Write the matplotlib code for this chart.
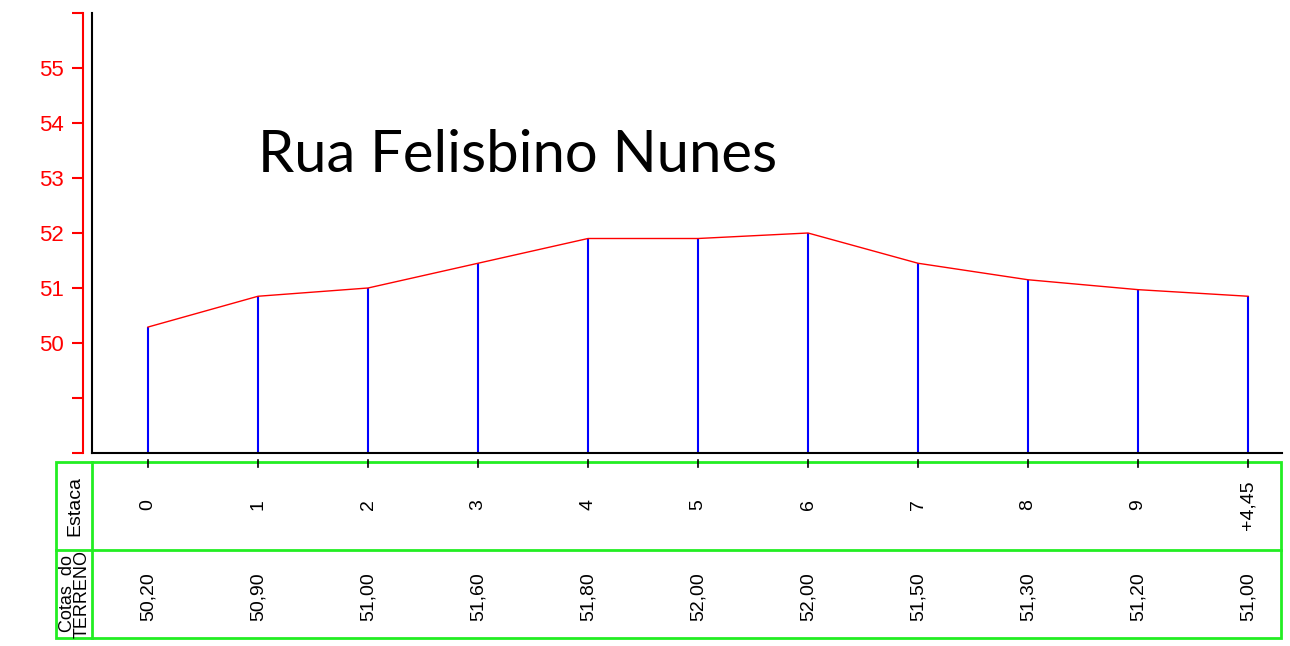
import matplotlib
matplotlib.use("Agg")
import matplotlib.pyplot as plt
import matplotlib.transforms as mtransforms
from matplotlib.patches import Rectangle
from matplotlib.lines import Line2D

# Profile data (stations and terrain elevations)
estacas = ["0", "1", "2", "3", "4", "5", "6", "7", "8", "9", "+4,45"]
cotas_desenho = [50.29, 50.85, 51.00, 51.45, 51.90, 51.90, 52.00, 51.45, 51.15, 50.97, 50.85]
cotas_rotulo = ["50,20", "50,90", "51,00", "51,60", "51,80", "52,00",
                "52,00", "51,50", "51,30", "51,20", "51,00"]
y_ticks = [48, 49, 50, 51, 52, 53, 54, 55, 56]
y_labels = ["", "", "50", "51", "52", "53", "54", "55", ""]

W, H = 1290, 646
fnt = "Liberation Sans"
fig = plt.figure(figsize=(W / 100, H / 100), dpi=100)
ax = fig.add_axes([92 / W, 1 - 453 / H, (1282 - 92) / W, (453 - 13) / H])

x = list(range(len(estacas)))
ax.set_xlim(-56 / 110, 10 + 34 / 110)
ax.set_ylim(48, 56)

# blue verticals from base to terrain
ax.vlines(x, 48, cotas_desenho, color="blue", lw=1.5)
ax.plot(x, cotas_desenho, color="red", lw=1)

# red elevation scale, offset from black axis line
ax.spines["left"].set_position(("outward", 6.5))
ax.spines["left"].set_color("red")
ax.spines["left"].set_linewidth(1.5)
ax.spines["top"].set_visible(False)
ax.spines["right"].set_visible(False)
ax.spines["bottom"].set_linewidth(1.5)
ax.set_yticks(y_ticks)
ax.set_yticklabels(y_labels, color="red", fontsize=16, family=fnt)
ax.tick_params(axis="y", colors="red", length=8, width=1.5, pad=6)
ax.set_xticks([])
ax.axvline(ax.get_xlim()[0], color="black", lw=1.5, clip_on=False)

ax.text((258 - 92) / 1190, (453 - 172) / 440, "Rua Felisbino Nunes", transform=ax.transAxes,
        fontsize=41.8, family="Lato", color="black", va="baseline", ha="left")

# table below the profile
green = "#22ee22"
def fy(py):
    return 1 - py / H

fig.add_artist(Rectangle((56 / W, fy(638)), (1281 - 56) / W, (638 - 462) / H,
                         transform=fig.transFigure, fill=False, ec=green, lw=2))
fig.add_artist(Line2D([56 / W, 1281 / W], [fy(550), fy(550)],
                      transform=fig.transFigure, color=green, lw=2))
fig.add_artist(Line2D([92 / W, 92 / W], [fy(462), fy(638)],
                      transform=fig.transFigure, color=green, lw=2))

blend = mtransforms.blended_transform_factory(ax.transData, fig.transFigure)
for i, (est, cot) in enumerate(zip(estacas, cotas_rotulo)):
    fig.add_artist(Line2D([i, i], [fy(460), fy(467)], transform=blend,
                          color="black", lw=1.2))
    fig.text(i, fy(505), est, transform=blend, rotation=90,
             ha="center", va="center", fontsize=14, family=fnt)
    fig.text(i, fy(597), cot, transform=blend, rotation=90,
             ha="center", va="center", fontsize=14, family=fnt)

fig.text(75 / W, fy(506), "Estaca", rotation=90, ha="center", va="center",
         fontsize=14, family=fnt)
fig.text(75 / W, fy(594), "Cotas  do\nTERRENO", rotation=90, ha="center",
         va="center", fontsize=13, family=fnt, linespacing=0.78)

fig.savefig("out.png", dpi=100)
